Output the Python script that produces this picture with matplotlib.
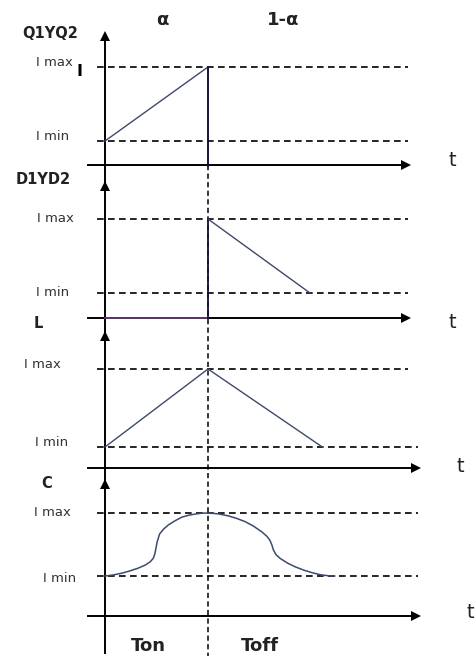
import matplotlib
matplotlib.use('Agg')
import matplotlib.pyplot as plt

# waveform data (time in units of Ton, current in arbitrary units)
T_ON = 1.0
I_MIN, I_MAX = 1.0, 4.0

q_t = [0.0, 1.0, 1.0]
q_i = [1.0, 4.0, 0.0]

d_t = [1.0, 1.0, 1.99]
d_i = [0.0, 4.0, 1.0]
d_zero_t = [0.0, 1.0]
d_zero_i = [0.0, 0.0]

l_t = [0.0, 1.0, 2.11]
l_i = [1.0, 4.0, 1.0]

c_t = [0.0, 0.08, 0.16, 0.24, 0.32, 0.39, 0.44, 0.47, 0.485, 0.495, 0.505, 0.53,
       0.57, 0.615, 0.68, 0.745, 0.81, 0.875, 0.94, 1.0,
       1.10, 1.20, 1.28, 1.36, 1.44, 1.52, 1.57, 1.60, 1.62, 1.635, 1.66, 1.70,
       1.77, 1.845, 1.93, 2.01, 2.09, 2.17, 2.23]
c_i = [1.0, 1.05, 1.13, 1.24, 1.37, 1.52, 1.68, 1.85, 2.08, 2.33, 2.60, 3.00,
       3.24, 3.43, 3.63, 3.80, 3.89, 3.95, 3.99, 4.0,
       3.96, 3.86, 3.74, 3.59, 3.38, 3.11, 2.90, 2.71, 2.48, 2.24, 2.02, 1.84,
       1.62, 1.44, 1.28, 1.16, 1.06, 1.01, 1.0]

panel_names = ['Q1YQ2', 'D1YD2', 'L', 'C']
phase_labels = ['α', '1-α']
time_labels = ['Ton', 'Toff']

# layout (pixels of the 475x659 canvas)
W, H = 475, 659
PX0, PX_PER_T = 105, 103
panels = [
    dict(top=32, imax=67, imin=141, axis=165, ax_end=408, dmax_end=408, dmin_end=408,
         t_pos=(452, 160), name_pos=(50, 33), lmax=(54, 63), lmin=(53, 137)),
    dict(top=182, imax=219, imin=293, axis=318, ax_end=408, dmax_end=408, dmin_end=408,
         t_pos=(452, 323), name_pos=(43, 180), lmax=(55, 218), lmin=(53, 293)),
    dict(top=332, imax=369, imin=447, axis=468, ax_end=418, dmax_end=408, dmin_end=418,
         t_pos=(460, 467), name_pos=(38, 324), lmax=(42, 365), lmin=(52, 442)),
    dict(top=480, imax=513, imin=576, axis=616, ax_end=418, dmax_end=418, dmin_end=418,
         t_pos=(470, 612), name_pos=(47, 484), lmax=(52, 513), lmin=(60, 579)),
]
WAVE = '#3d4a6b'
FONT = 'DejaVu Sans'
DASH = (4.0, 2.6)


def tx(px):
    return (px - PX0) / PX_PER_T


def to_y(p, i):
    return p['imin'] + (i - I_MIN) * (p['imax'] - p['imin']) / (I_MAX - I_MIN)


fig = plt.figure(figsize=(W / 100, H / 100), dpi=100)
ax = fig.add_axes([0, 0, 1, 1])
ax.set_xlim(tx(0), tx(W))
ax.set_ylim(H, 0)
ax.axis('off')

# main vertical axis, with an arrow at the top of each panel
ax.plot([0, 0], [panels[0]['top'] + 4, 653], color='black', lw=1.4)
for k, p in enumerate(panels):
    ax.plot(0, p['top'] + 4, marker='^', color='black', ms=7, mew=0)
    # time axis
    ax.plot([tx(88), tx(p['ax_end']) - 0.05], [p['axis'], p['axis']], color='black', lw=1.4)
    ax.plot(tx(p['ax_end']) - 0.02, p['axis'], marker='>', color='black', ms=7, mew=0)
    # Imax / Imin reference lines
    ax.plot([tx(97), tx(p['dmax_end'])], [p['imax'], p['imax']], color='black', lw=1.2,
            dashes=DASH)
    ax.plot([tx(97), tx(p['dmin_end'])], [p['imin'], p['imin']], color='black', lw=1.2,
            dashes=DASH)
    ax.text(tx(p['t_pos'][0]), p['t_pos'][1], 't', fontsize=14, ha='center', va='center',
            family=FONT, color='#222222')
    ax.text(tx(p['name_pos'][0]), p['name_pos'][1], panel_names[k],
            fontsize=10.5, fontweight='bold', ha='center', va='center', family=FONT,
            color='#222222')
    ax.text(tx(p['lmax'][0]), p['lmax'][1], 'I max', fontsize=9.5, ha='center', va='center',
            family=FONT, color='#333333')
    ax.text(tx(p['lmin'][0]), p['lmin'][1], 'I min', fontsize=9.5, ha='center', va='center',
            family=FONT, color='#333333')

# dashed switching instant
ax.plot([T_ON, T_ON], [panels[0]['axis'], 656], color='black', lw=1.1, dashes=(3.4, 2.2))

# waveforms
p1, p2, p3, p4 = panels
ax.plot(q_t, [to_y(p1, i) for i in q_i], color=WAVE, lw=1.0)
ax.plot(q_t[1:], [to_y(p1, i) for i in q_i[1:]], color='#111133', lw=1.3)
ax.plot(d_zero_t, [to_y(p2, i) for i in d_zero_i], color='#5a3a66', lw=1.4)
ax.plot(d_t[:2], [to_y(p2, i) for i in d_i[:2]], color='#111133', lw=1.3)
ax.plot(d_t[1:], [to_y(p2, i) for i in d_i[1:]], color=WAVE, lw=1.0)
ax.plot(l_t, [to_y(p3, i) for i in l_i], color=WAVE, lw=1.0)
ax.plot(c_t, [to_y(p4, i) for i in c_i], color=WAVE, lw=1.1, solid_joinstyle='round')

# stray mark next to the first Imax label
ax.text(tx(80), 71, 'I', fontsize=11.5, fontweight='bold', ha='center', va='center', family=FONT)

# phase and time labels
ax.text(tx(162), 20, phase_labels[0], fontsize=13, fontweight='bold', ha='center', va='center',
        family=FONT, color='#222222')
ax.text(tx(283), 20, phase_labels[1], fontsize=13, fontweight='bold', ha='center', va='center',
        family=FONT, color='#222222')
ax.text(tx(148), 646, time_labels[0], fontsize=13, fontweight='bold', ha='center', va='center',
        family=FONT, color='#222222')
ax.text(tx(260), 646, time_labels[1], fontsize=13, fontweight='bold', ha='center', va='center',
        family=FONT, color='#222222')

fig.savefig('out.png', dpi=100)
